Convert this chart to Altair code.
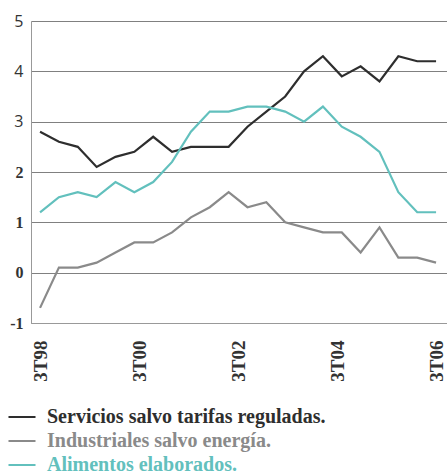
import altair as alt
import pandas as pd

servicios = [2.8, 2.6, 2.5, 2.1, 2.3, 2.4, 2.7, 2.4, 2.5, 2.5, 2.5, 2.9, 3.2, 3.5, 4.0, 4.3, 3.9, 4.1, 3.8, 4.3, 4.2, 4.2]
industriales = [-0.7, 0.1, 0.1, 0.2, 0.4, 0.6, 0.6, 0.8, 1.1, 1.3, 1.6, 1.3, 1.4, 1.0, 0.9, 0.8, 0.8, 0.4, 0.9, 0.3, 0.3, 0.2]
alimentos = [1.2, 1.5, 1.6, 1.5, 1.8, 1.6, 1.8, 2.2, 2.8, 3.2, 3.2, 3.3, 3.3, 3.2, 3.0, 3.3, 2.9, 2.7, 2.4, 1.6, 1.2, 1.2]
series_names = ["Servicios salvo tarifas reguladas.", "Industriales salvo energía.", "Alimentos elaborados."]
series_colors = ["#2e2e2e", "#8a8a8a", "#62c0bd"]
tick_labels = ["3T98", "3T00", "3T02", "3T04", "3T06"]
tick_positions = [0, 5.25, 10.5, 15.75, 21]

rows = []
for name, vals in zip(series_names, [servicios, industriales, alimentos]):
    for i, v in enumerate(vals):
        rows.append({"i": i, "v": v, "serie": name})
df = pd.DataFrame(rows)

label_expr = " : ".join(
    f"datum.value == {p} ? '{l}'" for p, l in zip(tick_positions, tick_labels)
) + " : ''"

color_expr = (
    f"datum.label == '{series_names[0]}' ? '{series_colors[0]}' : "
    f"datum.label == '{series_names[1]}' ? '{series_colors[1]}' : '{series_colors[2]}'"
)

chart = alt.Chart(df).mark_line(strokeWidth=2.2).encode(
    x=alt.X("i:Q", scale=alt.Scale(domain=[-0.48, 21.58], nice=False, zero=False),
            axis=alt.Axis(values=tick_positions, labelExpr=label_expr, labelAngle=-90,
                          labelAlign="right", labelBaseline="middle",
                          labelFont="Liberation Serif", labelFontWeight="bold",
                          labelFontSize=19, labelColor="#333", labelPadding=17,
                          ticks=False, grid=False, domain=True, domainColor="#999",
                          title=None)),
    y=alt.Y("v:Q", scale=alt.Scale(domain=[-1, 5], nice=False),
            axis=alt.Axis(values=[-1, 0, 1, 2, 3, 4, 5], ticks=False,
                          labelExpr="datum.value < 0 ? '-' + abs(datum.value) : '' + datum.value",
                          labelFont=alt.ExprRef("datum.value >= 3 ? 'Open Sans' : 'Liberation Serif'"),
                          labelFontWeight=alt.ExprRef("datum.value >= 3 ? 'normal' : 'bold'"),
                          labelFontSize=16, labelColor="#333", labelPadding=8,
                          grid=True, gridColor="#808080", gridWidth=1,
                          domain=True, domainColor="#999", title=None)),
    color=alt.Color("serie:N", scale=alt.Scale(domain=series_names, range=series_colors),
                    sort=series_names,
                    legend=alt.Legend(orient="none", legendX=-24, legendY=386,
                                      direction="vertical", title=None,
                                      symbolType="stroke", symbolSize=730,
                                      symbolStrokeWidth=2.2, clipHeight=20,
                                      labelFont="Liberation Serif", labelFontWeight="bold",
                                      labelFontSize=20,
                                      labelColor=alt.ExprRef(color_expr),
                                      labelLimit=400, rowPadding=4, labelOffset=10)),
).properties(
    width=416, height=302,
    padding={"left": 31, "top": 21, "right": 0, "bottom": 150},
    autosize=alt.AutoSizeParams(type="none"),
).configure_view(stroke="#cccccc", strokeWidth=1).configure(background="white")

chart.save("out.html", embed_options={"renderer": "svg", "actions": False})
